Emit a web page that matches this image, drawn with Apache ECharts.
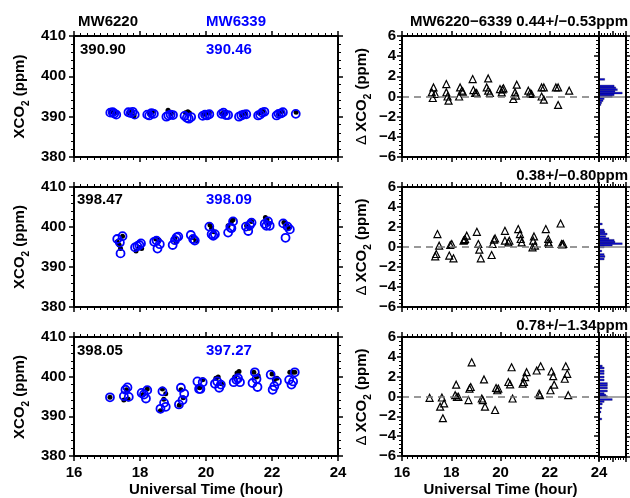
<!DOCTYPE html>
<html><head><meta charset="utf-8">
<script src="https://cdn.jsdelivr.net/npm/echarts@6/dist/echarts.min.js"></script>
<style>html,body{margin:0;padding:0;background:#fff}#c{width:630px;height:498px}</style>
</head><body><div id="c"></div>
<script>
// ---------------- DATA ----------------
const stationA = 'MW6220';
const stationB = 'MW6339';
const meansA = ['390.90', '398.47', '398.05'];
const meansB = ['390.46', '398.09', '397.27'];
const diffTitles = ['MW6220\u22126339 0.44+/\u22120.53ppm', '0.38+/\u22120.80ppm', '0.78+/\u22121.34ppm'];
const hourRange = [16, 24];       // x ticks every 2 h
const xco2Range = [380, 410];     // left y ticks every 10
const diffRange = [-6, 6];        // right y ticks every 2

// [hour, XCO2 ppm]
const black1 = [[17.12,391.2],[17.18,391.3],[17.25,390.9],[17.68,391.0],[17.75,391.4],[17.82,390.2],
  [18.30,390.6],[18.38,391.2],[18.85,391.6],[18.95,390.8],[19.38,391.0],[19.45,391.2],[19.50,390.9],
  [19.95,390.6],[20.05,390.9],[20.10,391.0],[20.50,390.8],[20.60,391.1],[21.08,390.5],[21.20,390.8],
  [21.62,390.9],[21.72,391.3],[22.20,390.6],[22.30,391.3],[22.73,391.1]];
const blue1 = [[17.10,391.0],[17.17,391.1],[17.22,390.8],[17.28,390.5],[17.65,391.1],[17.72,390.9],[17.78,391.2],[17.84,390.5],
  [18.22,390.5],[18.28,390.3],[18.35,390.9],[18.42,390.7],[18.80,390.0],[18.86,390.3],[18.93,390.5],[19.00,390.4],
  [19.35,390.2],[19.42,389.7],[19.48,389.5],[19.55,389.9],[19.90,390.2],[19.97,390.5],[20.03,390.3],[20.10,390.6],
  [20.47,390.7],[20.53,391.0],[20.60,390.4],[20.67,390.4],[21.00,390.0],[21.07,390.3],[21.14,390.5],[21.22,390.6],
  [21.58,390.3],[21.64,390.5],[21.70,391.0],[21.77,391.2],[22.14,390.3],[22.20,390.7],[22.27,390.8],[22.33,391.1],
  [22.72,390.7]];
const black2 = [[17.31,396.3],[17.37,395.5],[17.41,394.6],[17.47,397.7],[17.88,394.0],[17.98,394.9],[18.05,394.6],
  [18.48,397.0],[18.58,396.7],[19.06,397.3],[19.09,396.3],[19.61,397.4],[19.69,396.5],
  [20.12,400.5],[20.17,399.7],[20.24,398.8],[20.67,400.3],[20.77,401.4],[20.82,401.8],
  [21.23,400.3],[21.31,399.7],[21.38,401.4],[21.80,402.4],[21.85,401.8],[21.91,400.9],
  [22.36,401.1],[22.44,400.5],[22.51,399.7]];
const blue2 = [[17.31,397.0],[17.39,396.1],[17.41,393.4],[17.47,397.7],[17.85,394.9],[17.92,395.2],[17.98,395.5],[18.03,395.9],
  [18.43,396.3],[18.50,396.6],[18.53,394.6],[18.60,395.7],[18.99,395.5],[19.06,396.7],[19.11,397.4],[19.16,397.6],
  [19.54,398.0],[19.61,397.0],[19.66,396.6],[20.10,400.1],[20.17,398.2],[20.22,397.8],[20.27,398.2],
  [20.67,398.6],[20.74,399.9],[20.77,399.7],[20.82,401.4],[21.21,400.1],[21.28,399.0],[21.33,400.5],[21.38,401.1],
  [21.78,400.8],[21.83,400.3],[21.88,401.4],[21.93,400.3],[22.34,400.9],[22.41,397.3],[22.47,400.1],[22.54,399.4]];
const black3 = [[17.09,394.8],[17.51,394.1],[17.64,394.4],[17.59,396.7],[18.10,395.5],[18.22,396.9],
  [18.62,391.4],[18.68,396.9],[18.72,394.3],[18.78,395.7],[19.19,392.8],[19.24,396.7],[19.31,394.7],
  [19.76,397.4],[19.81,397.2],[19.90,399.2],[20.30,399.6],[20.37,399.9],[20.47,398.2],
  [20.87,399.9],[20.94,400.9],[21.00,401.3],[21.45,401.1],[21.53,399.9],[21.58,400.2],
  [22.00,400.7],[22.07,399.2],[22.15,399.6],[22.54,401.1],[22.62,401.1],[22.69,401.1]];
const blue3 = [[17.09,394.8],[17.51,395.1],[17.56,396.7],[17.62,397.3],[17.66,394.9],[18.05,395.9],[18.12,395.5],[18.18,394.5],[18.22,396.6],
  [18.62,391.9],[18.68,396.3],[18.73,393.4],[18.78,392.4],[19.18,393.0],[19.24,397.2],[19.29,394.1],[19.34,395.7],
  [19.74,398.8],[19.79,396.9],[19.83,396.9],[19.90,398.6],[20.27,398.2],[20.34,398.8],[20.40,397.2],[20.45,398.0],
  [20.84,398.6],[20.92,399.2],[20.97,399.6],[21.03,398.6],[21.41,398.4],[21.48,401.1],[21.53,399.4],[21.56,397.4],
  [21.96,400.5],[22.02,396.7],[22.07,397.6],[22.15,398.8],[22.52,399.2],[22.59,398.0],[22.64,398.8],[22.69,401.1]];

// [hour, difference ppm]
const diff1 = [[17.28,0.9],[17.21,0.41],[17.35,0.25],[17.25,-0.15],[17.80,1.23],[17.80,0.41],[17.85,0.0],[17.89,-0.41],
  [18.36,0.9],[18.43,0.58],[18.32,0.0],[18.47,0.48],[18.87,1.73],[18.90,0.64],[18.97,0.35],[19.03,0.35],
  [19.44,0.9],[19.50,1.79],[19.50,0.58],[19.57,0.35],[19.98,0.74],[20.05,0.41],[20.12,0.81],[20.08,0.7],
  [20.66,1.17],[20.59,0.41],[20.52,-0.25],[20.63,0.08],[21.13,0.58],[21.20,0.35],[21.26,0.25],
  [21.67,0.9],[21.76,0.9],[21.67,0.0],[21.76,-0.31],[22.25,0.9],[22.34,0.9],[22.34,-0.84],[22.79,0.58]];
const diff2 = [[17.44,1.29],[17.51,0.13],[17.39,-0.7],[17.35,-0.93],[17.96,0.2],[18.02,0.3],[17.92,-0.86],[18.09,-1.13],
  [18.50,0.63],[18.56,0.8],[18.63,1.13],[18.53,0.7],[19.04,1.52],[19.10,0.3],[19.14,-0.27],[19.20,-1.13],
  [19.64,-0.8],[19.68,0.3],[19.74,0.73],[19.78,0.86],[20.18,1.62],[20.18,0.63],[20.36,0.63],[20.32,0.46],
  [20.72,1.79],[20.79,1.29],[20.82,0.8],[20.86,0.46],[21.30,-0.03],[21.36,1.06],[21.33,0.63],[21.40,0.13],
  [21.84,1.79],[21.94,0.8],[21.94,0.46],[21.98,0.3],[22.44,2.35],[22.48,0.3],[22.55,0.3],[22.51,0.25]];
const diff3 = [[17.12,-0.13],[17.62,-0.1],[17.55,-1.03],[17.71,-0.7],[17.66,-2.19],[18.20,1.19],[18.16,0.13],[18.23,-0.03],[18.29,-0.03],
  [18.70,-0.36],[18.74,0.8],[18.79,0.96],[18.83,3.45],[19.24,-0.2],[19.28,-0.36],[19.33,1.72],[19.37,-1.03],
  [19.78,-1.36],[19.82,0.86],[19.87,0.63],[19.91,0.8],[20.32,1.46],[20.39,1.23],[20.45,2.95],[20.49,-0.2],
  [20.90,1.29],[20.95,1.46],[21.00,1.96],[21.06,2.45],[21.47,2.62],[21.57,0.3],[21.60,0.13],[21.63,3.05],
  [22.03,0.63],[22.07,2.52],[22.14,2.05],[22.18,1.19],[22.61,1.79],[22.65,3.05],[22.71,2.29],[22.75,0.13]];

// histogram of differences: [bin centre ppm, frequency]
const hist1 = [[1.7,2.1],[1.04,5.6],[0.86,6.2],[0.68,6.8],[0.51,5.9],[0.34,8.6],[0.17,5.6],[0.0,4.9],
  [-0.21,1.9],[-0.41,1.5],[-0.61,1.0],[-0.81,0.7]];
const hist2 = [[2.3,1.2],[1.7,1.9],[1.5,2.2],[1.3,3.0],[1.05,2.5],[0.84,3.7],[0.67,5.6],[0.5,5.9],[0.33,8.6],
  [0.17,4.9],[0.0,1.9],[-0.4,1.0],[-0.75,1.9],[-0.95,2.2],[-1.2,1.9]];
const hist3 = [[3.1,1.2],[2.9,1.9],[2.6,1.9],[2.35,1.9],[2.0,1.9],[1.7,1.9],[1.35,3.1],[1.15,3.1],[0.9,3.1],[0.6,3.1],
  [0.35,1.9],[0.2,2.5],[0.05,3.1],[-0.25,4.9],[-0.45,1.9],[-0.7,1.2],[-1.1,1.0],[-1.5,0.7],[-2.2,1.0]];

// ---------------- CHART ----------------
const FONT = "'Liberation Sans', Arial, Helvetica, sans-serif";
const blacks = [black1, black2, black3];
const blues = [blue1, blue2, blue3];
const diffs = [diff1, diff2, diff3];
const hists = [hist1, hist2, hist3];
const tops = [36, 187, 337];
const heights = [121, 120, 120];

const grid = [];
for (let r = 0; r < 3; r++) grid.push({left: 74, width: 264, top: tops[r], height: heights[r]});
for (let r = 0; r < 3; r++) grid.push({left: 402, width: 197, top: tops[r], height: heights[r]});
for (let r = 0; r < 3; r++) grid.push({left: 599, width: 27, top: tops[r], height: heights[r]});

function axis(o) {
  return {
    type: 'value', gridIndex: o.g, position: o.pos, min: o.min, max: o.max, interval: o.int,
    axisLine: {show: true, onZero: false, lineStyle: {color: '#000', width: 2}},
    axisTick: {show: o.tick !== false, inside: !!o.inside, length: 5, lineStyle: {color: '#000', width: 1.5}},
    minorTick: {show: o.tick !== false, splitNumber: o.minor, length: 3, lineStyle: {color: '#000', width: 1}},
    splitLine: {show: false}, minorSplitLine: {show: false},
    axisLabel: o.label ? Object.assign({show: true, color: '#000', fontFamily: FONT, fontWeight: 'bold', fontSize: 15,
      showMinLabel: true, showMaxLabel: true, hideOverlap: false}, o.label) : {show: false},
    name: o.name || '', nameLocation: 'middle', nameGap: o.nameGap || 0,
    nameTextStyle: {color: '#000', fontFamily: FONT, fontWeight: 'bold', fontSize: 15},
    silent: true, z: 5
  };
}
const minusFmt = v => (v < 0 ? '\u2212' + Math.abs(v) : String(v));

const xAxis = [], yAxis = [];
for (let g = 0; g < 9; g++) {
  const row = g % 3, kind = Math.floor(g / 3);
  const last = row === 2;
  if (kind < 2) {
    xAxis.push(axis({g, pos: 'bottom', min: hourRange[0], max: hourRange[1], int: 2, minor: 10,
      label: last ? {margin: 9} : null, name: last ? 'Universal Time (hour)' : '', nameGap: 26}));
    xAxis.push(axis({g, pos: 'top', min: hourRange[0], max: hourRange[1], int: 2, minor: 10}));
  } else {
    xAxis.push(axis({g, pos: 'bottom', min: 0, max: 10, int: 5, minor: 5}));
    xAxis.push(axis({g, pos: 'top', min: 0, max: 10, int: 5, minor: 5}));
  }
  if (kind === 0) {
    yAxis.push(axis({g, pos: 'left', min: xco2Range[0], max: xco2Range[1], int: 10, minor: 5, label: {margin: 8}}));
    yAxis.push(axis({g, pos: 'right', min: xco2Range[0], max: xco2Range[1], int: 10, minor: 5}));
  } else if (kind === 1) {
    yAxis.push(axis({g, pos: 'left', min: diffRange[0], max: diffRange[1], int: 2, minor: 5, label: {margin: 6, formatter: minusFmt}}));
    yAxis.push(axis({g, pos: 'right', min: diffRange[0], max: diffRange[1], int: 2, minor: 5, inside: true}));
  } else {
    yAxis.push(axis({g, pos: 'left', min: diffRange[0], max: diffRange[1], int: 2, minor: 5, tick: false}));
    yAxis.push(axis({g, pos: 'right', min: diffRange[0], max: diffRange[1], int: 2, minor: 5}));
  }
}

const series = [];
const BIN = 0.18;
for (let r = 0; r < 3; r++) {
  series.push({type: 'scatter', xAxisIndex: 2 * r, yAxisIndex: 2 * r, data: blacks[r], symbol: 'circle', symbolSize: 5,
    itemStyle: {color: '#000', opacity: 1}, z: 2, silent: true});
  series.push({type: 'scatter', xAxisIndex: 2 * r, yAxisIndex: 2 * r, data: blues[r], symbol: 'circle', symbolSize: 8,
    itemStyle: {color: 'rgba(0,0,0,0)', borderColor: '#0000ff', borderWidth: 1.8, opacity: 1}, z: 3, silent: true});
  series.push({type: 'scatter', xAxisIndex: 2 * (3 + r), yAxisIndex: 2 * (3 + r), data: diffs[r], symbol: 'triangle', symbolSize: 7,
    itemStyle: {color: 'rgba(0,0,0,0)', borderColor: '#000', borderWidth: 1.2, opacity: 1}, z: 3, silent: true,
    markLine: {silent: true, symbol: 'none', label: {show: false}, animation: false,
      lineStyle: {color: '#777', type: [7, 5], width: 1.5}, data: [{yAxis: 0}]}});
  series.push({type: 'custom', xAxisIndex: 2 * (6 + r), yAxisIndex: 2 * (6 + r), data: hists[r],
    encode: {x: 1, y: 0}, silent: true, z: 3,
    renderItem: function (params, api) {
      const y = api.value(0), c = api.value(1);
      const p0 = api.coord([0, y + BIN / 2]);
      const p1 = api.coord([c, y - BIN / 2]);
      return {type: 'rect', shape: {x: p0[0], y: p0[1], width: p1[0] - p0[0], height: p1[1] - p0[1]},
        style: {fill: '#0a0ad0', stroke: '#000030', lineWidth: 0.3}};
    },
    markLine: {silent: true, symbol: 'none', label: {show: false}, animation: false,
      lineStyle: {color: '#888', type: 'solid', width: 1.5}, data: [{yAxis: 0}]}});
}

const txt = (x, y, text, color, align, extra) => Object.assign({type: 'text', x, y, silent: true, z: 10,
  style: {text, fill: color, font: 'bold 15px ' + FONT, align: align || 'left', textAlign: align || 'left',
    verticalAlign: 'middle', textVerticalAlign: 'middle'}}, extra || {});
const graphic = [
  txt(78, 22, stationA, '#000'),
  txt(206, 22, stationB, '#0000ff')
];
const meanY = [50, 200, 351], meanXA = [80, 77, 77];
for (let r = 0; r < 3; r++) {
  graphic.push(txt(meanXA[r], meanY[r], meansA[r], '#000'));
  graphic.push(txt(206, meanY[r], meansB[r], '#0000ff'));
}
const titleY = [22, 176, 326];
for (let r = 0; r < 3; r++) graphic.push(txt(628, titleY[r], diffTitles[r], '#000', 'right'));
const rich = {n: {fontFamily: FONT, fontWeight: 'bold', fontSize: 15, lineHeight: 22, verticalAlign: 'middle'},
  d: {fontFamily: FONT, fontWeight: 'normal', fontSize: 15, lineHeight: 22, verticalAlign: 'middle'},
  s: {fontFamily: FONT, fontWeight: 'bold', fontSize: 10, lineHeight: 14, verticalAlign: 'bottom'}};
for (let r = 0; r < 3; r++) {
  const cy = tops[r] + heights[r] / 2;
  graphic.push({type: 'text', x: 20, y: cy, rotation: Math.PI / 2, silent: true,
    style: {text: '{n|XCO}{s|2}{n| (ppm)}', rich, fill: '#000', align: 'center', verticalAlign: 'middle'}});
  graphic.push({type: 'text', x: 362, y: cy, rotation: Math.PI / 2, silent: true,
    style: {text: '{d|\u0394} {n|XCO}{s|2}{n| (ppm)}', rich, fill: '#000', align: 'center', verticalAlign: 'middle'}});
}

const chart = echarts.init(document.getElementById('c'), null, {renderer: 'canvas'});
chart.setOption({animation: false, backgroundColor: '#fff', grid, xAxis, yAxis, series, graphic});
</script></body></html>
